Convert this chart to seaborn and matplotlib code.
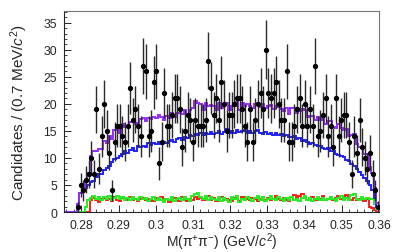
import numpy as np
import pandas as pd
import seaborn as sns
import matplotlib
matplotlib.use("Agg")
import matplotlib.pyplot as plt
from matplotlib.ticker import MultipleLocator

# binning: 121 bins of 0.7 MeV/c^2
x_lo, x_hi, n_bins = 0.2753, 0.3600, 121
first_data_bin = 5

# observed candidates per bin (bins 5..120)
data_counts = [
    1, 5, 4, 6, 7, 10, 7, 19, 8, 14, 20, 15, 11, 4, 13, 16, 16, 14, 13, 16,
    23, 17, 19, 16, 14, 27, 26, 14, 15, 24, 26, 9, 13, 22, 16, 16, 18, 21, 21, 19,
    12, 15, 18, 17, 13, 17, 16, 16, 16, 17, 28, 23, 18, 21, 17, 24, 20, 15, 18, 18,
    20, 21, 21, 19, 16, 13, 19, 13, 17, 20, 22, 19, 30, 22, 21, 22, 24, 20, 17, 17,
    26, 13, 13, 16, 19, 21, 16, 20, 16, 19, 16, 27, 14, 15, 18, 21, 14, 16, 12, 21,
    14, 17, 18, 18, 13, 7, 14, 11, 17, 12, 10, 8, 11, 7, 4, 1,
]

# signal component (blue), all 121 bins
signal = [
    0, 0, 0, 0, 0, 1.5, 3.5, 4.0, 4.5, 5.0, 5.5, 5.8, 6.5, 7.0, 7.0, 7.8, 8.2, 8.5, 9.2, 9.8,
    10.0, 10.3, 10.8, 11.2, 11.0, 11.5, 11.8, 11.3, 12.2, 12.0, 12.3, 12.0, 12.8, 12.4, 12.7, 12.5, 12.9, 12.6, 13.0, 12.8,
    13.2, 13.3, 13.0, 13.5, 13.6, 13.3, 13.8, 13.7, 14.2, 14.0, 14.4, 14.2, 14.6, 14.3, 14.7, 14.4, 14.8, 14.5, 14.6, 14.9,
    14.5, 14.8, 15.3, 14.7, 15.0, 14.6, 15.1, 14.8, 14.9, 15.2, 14.7, 15.0, 14.6, 14.9, 15.1, 14.7, 14.4, 14.8, 14.5, 14.7,
    14.3, 14.6, 14.2, 14.4, 14.0, 14.3, 13.9, 13.8, 14.0, 13.5, 13.6, 13.2, 13.3, 12.9, 12.6, 12.8, 12.4, 12.2, 12.3, 11.9,
    11.7, 11.8, 11.3, 11.2, 10.8, 10.6, 10.3, 10.1, 9.6, 9.4, 8.8, 8.5, 7.9, 7.4, 6.9, 6.3, 5.7, 5.0, 4.0, 2.6,
    1.0,
]

# background components
bkg_green = [
    0, 0, 0, 0, 0, 0, 0, 0, 1.0, 2.2, 2.6, 2.9, 2.5, 2.8, 2.3, 2.7, 2.4, 3.0, 2.2, 2.6,
    2.9, 2.4, 2.8, 2.2, 2.6, 2.3, 2.7, 2.5, 2.2, 2.8, 2.4, 2.6, 2.1, 2.5, 2.8, 2.3, 2.6, 2.2, 1.8, 2.5,
    2.3, 2.7, 2.0, 2.4, 2.6, 2.2, 2.8, 2.4, 2.1, 2.9, 3.3, 3.6, 2.7, 2.4, 2.9, 2.3, 2.7, 2.5, 2.2, 2.8,
    2.0, 2.6, 2.3, 1.8, 2.7, 2.4, 2.9, 1.9, 2.5, 2.2, 2.8, 2.4, 2.0, 2.6, 3.0, 2.3, 2.7, 2.1, 2.5, 2.9,
    2.4, 2.2, 2.7, 2.4, 2.0, 2.6, 2.3, 2.8, 2.2, 2.5, 2.1, 2.6, 2.9, 2.3, 2.6, 2.1, 2.5, 2.8, 2.3, 2.6,
    2.2, 2.5, 2.8, 2.4, 2.1, 2.6, 2.9, 2.3, 2.6, 2.2, 3.1, 3.4, 2.5, 2.2, 2.7, 2.4, 2.6, 2.4, 2.5, 1.5,
    0.6,
]
bkg_red = [
    0, 0, 0, 0, 0, 0, 0, 0, 0, 0, 2.3, 2.6, 2.3, 1.9, 2.4, 2.6, 2.2, 2.5, 2.1, 2.7,
    2.3, 2.0, 2.6, 2.4, 2.2, 2.8, 2.3, 2.5, 2.1, 2.4, 2.6, 2.2, 2.5, 2.3, 2.0, 2.6, 2.4, 2.7, 2.2, 2.5,
    1.9, 2.3, 2.6, 2.4, 2.1, 2.7, 2.3, 2.0, 2.5, 2.3, 2.8, 2.4, 2.6, 2.2, 2.5, 2.9, 2.3, 2.6, 2.1, 2.4,
    2.7, 2.2, 2.5, 2.3, 2.0, 2.6, 2.4, 2.1, 2.7, 2.3, 2.5, 2.2, 2.6, 2.4, 2.0, 2.5, 2.8, 2.3, 2.6, 2.2,
    2.4, 2.9, 2.5, 2.2, 2.6, 2.3, 2.0, 2.7, 3.1, 2.4, 3.0, 3.3, 2.6, 2.3, 2.5, 2.8, 2.2, 2.6, 2.4, 2.9,
    2.3, 2.5, 2.8, 2.2, 2.6, 3.0, 2.4, 2.7, 3.1, 2.5, 2.3, 2.6, 2.2, 2.5, 2.3, 2.1, 2.4, 1.0, 0.8, 0.3,
    0,
]

edges = np.linspace(x_lo, x_hi, n_bins + 1)
centers = 0.5 * (edges[:-1] + edges[1:])

df = pd.DataFrame({
    "mass": centers,
    "signal": signal,
    "green": bkg_green,
    "red": bkg_red,
})
df["total"] = df["signal"] + df["green"] + df["red"]

obs = pd.DataFrame({
    "mass": centers[first_data_bin:first_data_bin + len(data_counts)],
    "count": data_counts,
})
obs["err"] = np.sqrt(obs["count"])

sns.set_theme(style="ticks")
plt.rcParams["font.family"] = ["Liberation Sans", "DejaVu Sans"]
plt.rcParams.update({
    "font.size": 8.8,
    "xtick.direction": "in",
    "ytick.direction": "in",
    "axes.linewidth": 0.8,
    "mathtext.fontset": "custom",
    "mathtext.rm": "Liberation Sans",
    "mathtext.it": "Liberation Sans:italic",
})

fig = plt.figure(figsize=(3.99, 2.53), dpi=100)
ax = fig.add_axes([0.160, 0.158, 0.790, 0.795])

ax.errorbar(obs["mass"], obs["count"], yerr=obs["err"], fmt="o", color="black",
            ms=2.8, elinewidth=1.0, ecolor="#2a2a2a", capsize=0, zorder=3)

styles = [("red", "#ff1a1a"), ("green", "#22ee22"), ("signal", "#1f1fff"), ("total", "#9a2cff")]
for col, c in styles:
    ax.stairs(df[col].values, edges, color=c, lw=1.4, zorder=2)

ax.set_xlim(x_lo, x_hi)
ax.set_ylim(0, 37.2)
ax.xaxis.set_minor_locator(MultipleLocator(0.002))
ax.yaxis.set_major_locator(MultipleLocator(5))
ax.yaxis.set_minor_locator(MultipleLocator(1))
ax.set_xticks(np.arange(0.28, 0.3601, 0.01))
ax.set_xticklabels(["0.28", "0.29", "0.3", "0.31", "0.32", "0.33", "0.34", "0.35", "0.36"])
ax.tick_params(which="major", length=5, width=0.7, labelsize=8.8, pad=5)
ax.tick_params(which="minor", length=2.5, width=0.6)
for s in ["top", "right"]:
    ax.spines[s].set_color("#777777")

ax.set_xlabel("M(π$^{+}$π$^{-}$) (GeV/$c^{2}$)", fontsize=10)
ax.set_ylabel("Candidates / (0.7 MeV/$c^{2}$)", fontsize=11)
ax.xaxis.set_label_coords(0.5, -0.09)
ax.yaxis.set_label_coords(-0.108, 0.5)

fig.savefig("out.png", dpi=100)
